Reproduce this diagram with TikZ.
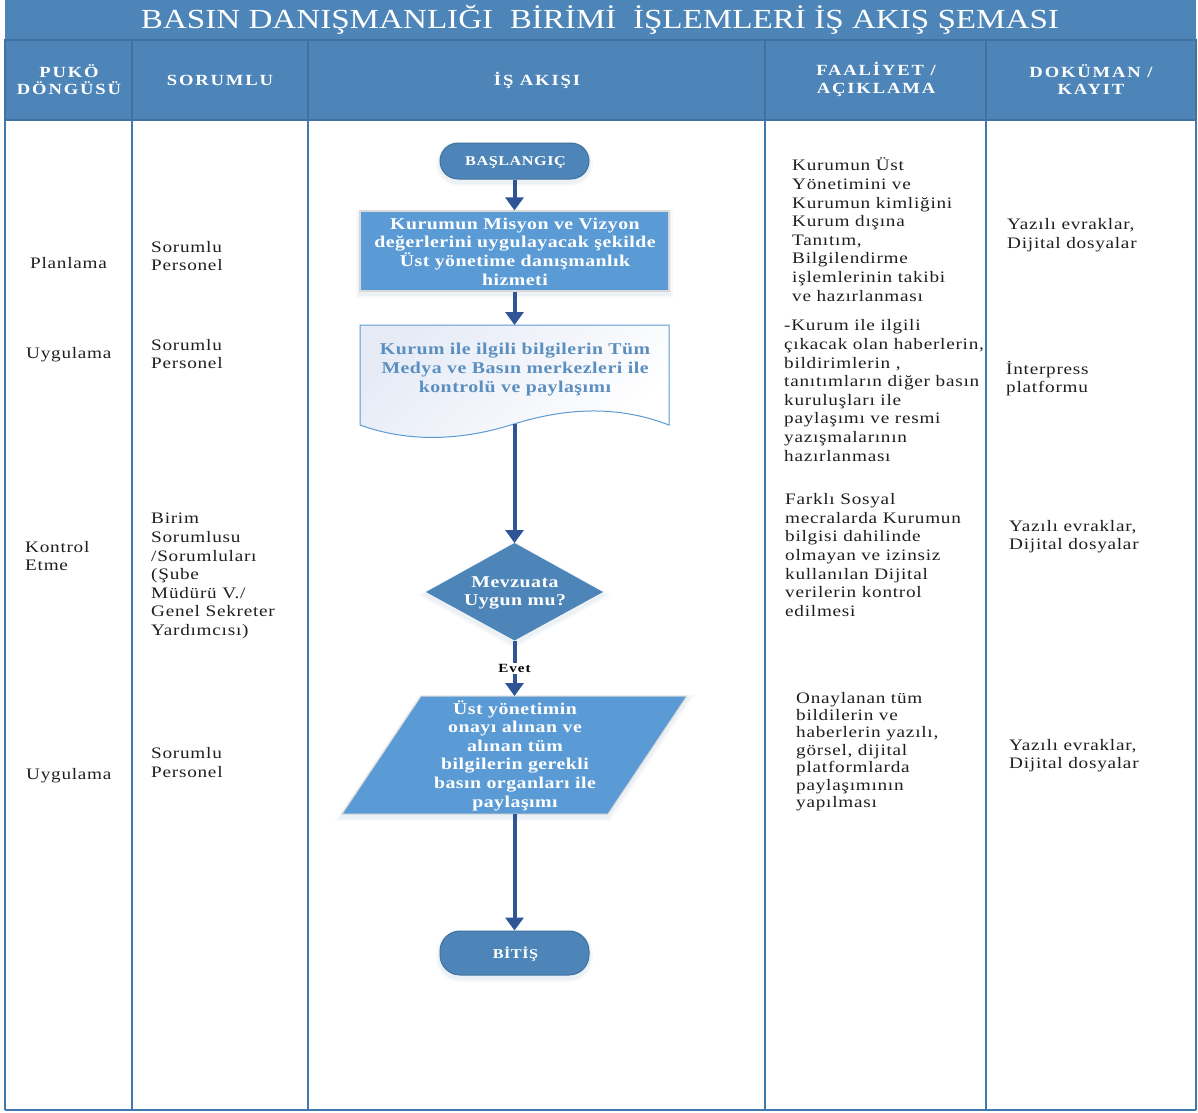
\documentclass[tikz,border=0pt]{standalone}
\usepackage{fontspec}
\setmainfont[FakeStretch=1.2]{Liberation Serif}
\usetikzlibrary{arrows.meta}
\definecolor{hdr}{HTML}{4D85B9}
\definecolor{hline}{HTML}{41719C}
\definecolor{grid}{HTML}{3F79AE}
\definecolor{boxb}{HTML}{5B9BD5}
\definecolor{arr}{HTML}{2F5597}
\definecolor{bodyt}{HTML}{1F1F1F}
\definecolor{doct}{HTML}{5B8FC0}
\definecolor{doctint}{HTML}{E6EBF6}
\tikzset{
 hdrcell/.style={fill=hdr,draw=hline,line width=1.6pt},
 gridline/.style={draw=grid,line width=1.8pt},
 hdrtext/.style={text=white,align=center,font=\fontsize{15.5}{17.5}\selectfont\bfseries\addfontfeature{LetterSpace=12}},
 bodytext/.style={text=bodyt,align=left,anchor=west,inner sep=0pt,font=\fontsize{16}{18.6}\selectfont\addfontfeature{LetterSpace=4.7}},
 flowtext/.style={text=white,align=center,inner sep=0pt,font=\fontsize{16.5}{18.6}\selectfont\bfseries\addfontfeature{LetterSpace=3}},
 termtext/.style={text=white,align=center,inner sep=0pt,font=\fontsize{13.5}{15}\selectfont\bfseries\addfontfeature{LetterSpace=4}},
 softshadow/.style={
   preaction={draw=hline,draw opacity=.04,line width=8pt,transform canvas={yshift=-3pt}},
   preaction={draw=hline,draw opacity=.06,line width=4pt,transform canvas={yshift=-3pt}}},
 term/.style={fill=hdr,draw=hline,line width=1pt,rounded corners=18pt,softshadow},
 flowarrow/.style={draw=arr,line width=4pt,-{Triangle[width=18pt,length=13pt,fill=arr]}},
}
\begin{document}
\begin{tikzpicture}[x=1pt,y=-1pt]
\useasboundingbox (0,0) rectangle (1198,1112);
\fill[white] (0,0) rectangle (1198,1112);
% title band
\fill[hdr] (5,0) rectangle (1196,40);
% header
\foreach \a/\b in {5/132,132/308,308/765,765/986,986/1196}{
  \path[hdrcell] (\a,40) rectangle (\b,120);
}
% column lines
\foreach \x in {5,132,308,765,986,1196}{
  \draw[gridline] (\x,120) -- (\x,1110);
}
\draw[gridline] (5,1110) -- (1196,1110);
\node[text=white,font=\fontsize{27.6}{30}\selectfont] (title) at (600,20) {BASIN DANIŞMANLIĞI\ \ BİRİMİ\ \ İŞLEMLERİ İŞ AKIŞ ŞEMASI};
\node[hdrtext] (h1) at (69,79.5) {PUKÖ\\DÖNGÜSÜ};
\node[hdrtext] (h2) at (220,80) {SORUMLU};
\node[hdrtext] (h3) at (537,80) {İŞ AKIŞI};
\node[hdrtext] (h4) at (876,79.5) {FAALİYET /\\AÇIKLAMA};
\node[hdrtext] (h5) at (1091,79.5) {DOKÜMAN /\\KAYIT};
% flow shapes
\node[term,minimum width=149pt,minimum height=36pt,inner sep=0pt] (start) at (514.5,161) {};
\node[termtext] (starttxt) at (515.5,162) {BAŞLANGIÇ};
\node[fill=boxb,draw=black!15,line width=1.2pt,softshadow,minimum width=309pt,minimum height=80pt,inner sep=0pt] (proc) at (514.5,251) {};
\node[flowtext] (proctxt) at (515,251.5) {Kurumun Misyon ve Vizyon\\değerlerini uygulayacak şekilde\\Üst yönetime danışmanlık\\hizmeti};
\shade[top color=doctint,bottom color=white,shading angle=45]
 (360,325) -- (669,325) -- (669,425) .. controls (625,408) and (575,405) .. (514,424) .. controls (470,438) and (415,445) .. (360,425) -- cycle;
\draw[boxb,line width=1pt] (360,325) -- (669,325) -- (669,425) .. controls (625,408) and (575,405) .. (514,424) .. controls (470,438) and (415,445) .. (360,425) -- cycle;
\coordinate (docbottom) at (514.5,424);
\coordinate (doctop) at (514.5,325);
\node[flowtext,text=doct] (doctxt) at (515,369.5) {Kurum ile ilgili bilgilerin Tüm\\Medya ve Basın merkezleri ile\\kontrolü ve paylaşımı};
\path[fill=hdr,softshadow] (514.5,543) -- (603,592) -- (514.5,640.5) -- (426,592) -- cycle;
\coordinate (dtop) at (514.5,543);
\coordinate (dbot) at (514.5,640.5);
\node[flowtext] (dtxt) at (515,593) {Mevzuata\\Uygun mu?};
\path[fill=boxb,draw=black!15,line width=1pt,softshadow] (421,696) -- (687,696) -- (608,814) -- (342,814) -- cycle;
\coordinate (ptop) at (514.5,696);
\coordinate (pbot) at (514.5,814);
\node[flowtext] (ptxt) at (515,755.5) {Üst yönetimin\\onayı alınan ve\\alınan tüm\\bilgilerin gerekli\\basın organları ile\\paylaşımı};
\node[term,rounded corners=20pt,minimum width=149pt,minimum height=44pt,inner sep=0pt] (end) at (514.5,953) {};
\node[termtext] (endtxt) at (515.5,954.5) {BİTİŞ};
% connectors
\draw[flowarrow] (start.south) -- (proc.north);
\draw[flowarrow] (proc.south) -- (doctop);
\draw[flowarrow] (docbottom) -- (dtop);
\draw[flowarrow] (dbot) -- node[fill=white,inner xsep=1pt,inner ysep=1.5pt,text=black,font=\fontsize{12.5}{13}\selectfont\bfseries\addfontfeature{LetterSpace=8},pos=.51] (evet) {Evet} (ptop);
\draw[flowarrow] (pbot) -- (end.north);
% PUKO
\node[bodytext] (p1) at (30,263) {Planlama};
\node[bodytext] (p2) at (26,355) {Uygulama};
\node[bodytext] (p3) at (25,556) {Kontrol\\Etme};
\node[bodytext] (p4) at (26,776) {Uygulama};
% sorumlu
\node[bodytext] (s1) at (151,256) {Sorumlu\\Personel};
\node[bodytext] (s2) at (151,354) {Sorumlu\\Personel};
\node[bodytext] (s3) at (151,576) {Birim\\Sorumlusu\\/Sorumluları\\(Şube\\Müdürü V./\\Genel Sekreter\\Yardımcısı)};
\node[bodytext] (s4) at (151,762.5) {Sorumlu\\Personel};
% faaliyet
\node[bodytext] (f1) at (792,229.5) {Kurumun Üst\\Yönetimini ve\\Kurumun kimliğini\\Kurum dışına\\Tanıtım,\\Bilgilendirme\\işlemlerinin takibi\\ve hazırlanması};
\node[bodytext] (f2) at (784,390.5) {-Kurum ile ilgili\\çıkacak olan haberlerin,\\bildirimlerin ,\\tanıtımların diğer basın\\kuruluşları ile\\paylaşımı ve resmi\\yazışmalarının\\hazırlanması};
\node[bodytext] (f3) at (785,555) {Farklı Sosyal\\mecralarda Kurumun\\bilgisi dahilinde\\olmayan ve izinsiz\\kullanılan Dijital\\verilerin kontrol\\edilmesi};
\node[bodytext,font=\fontsize{16}{17.4}\selectfont\addfontfeature{LetterSpace=4.7}] (f4) at (796,751.5) {Onaylanan tüm\\bildilerin ve\\haberlerin yazılı,\\görsel, dijital\\platformlarda\\paylaşımının\\yapılması};
% dokuman
\node[bodytext] (d1) at (1007,235) {Yazılı evraklar,\\Dijital dosyalar};
\node[bodytext] (d2) at (1006,378.5) {İnterpress\\platformu};
\node[bodytext] (d3) at (1009,536.5) {Yazılı evraklar,\\Dijital dosyalar};
\node[bodytext] (d4) at (1009,755.5) {Yazılı evraklar,\\Dijital dosyalar};
\end{tikzpicture}
\end{document}
